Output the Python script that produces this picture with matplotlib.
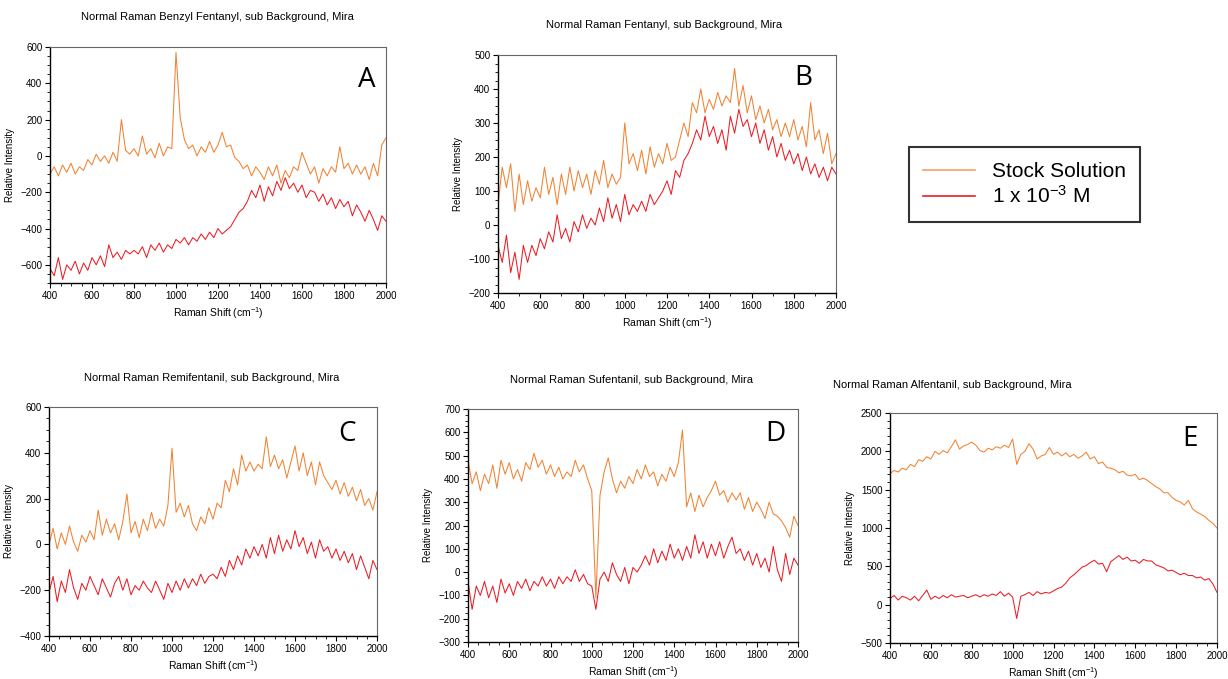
import numpy as np
import matplotlib
matplotlib.use("Agg")
import matplotlib.pyplot as plt
from matplotlib.ticker import MultipleLocator
from matplotlib.lines import Line2D

plt.rcParams['font.family'] = ['Liberation Sans', 'DejaVu Sans']
plt.rcParams['mathtext.default'] = 'regular'

# Raman shift axis, 400 - 2000 cm-1 in 20 cm-1 steps
shift = np.arange(400, 2001, 20)

# A: benzyl fentanyl
benzyl_stock = [-100, -60, -110, -50, -90, -40, -100, -60, -80, -20,
                -50, 10, -30, 0, -40, 20, -30, 200, 30, 10,
                40, 0, 110, 10, 40, -10, 70, 0, 50, 40,
                570, 210, 90, 40, 60, 0, 50, 20, 80, 20,
                60, 130, 50, 60, -10, -30, -70, -50, -110, -60,
                -90, -130, -60, -110, -50, -150, -80, -120, -60, -80,
                20, -40, -100, -60, -150, -70, -110, -60, -90, 50,
                -70, -40, -100, -50, -100, -60, -130, -40, -110, 60,
                100]
benzyl_dilute = [-620, -660, -560, -680, -600, -630, -580, -650, -590, -630,
                 -560, -600, -550, -610, -490, -560, -530, -570, -520, -540,
                 -520, -540, -500, -560, -490, -520, -480, -530, -490, -510,
                 -460, -480, -450, -490, -450, -470, -430, -460, -420, -450,
                 -400, -430, -410, -390, -350, -310, -290, -250, -190, -230,
                 -160, -250, -170, -220, -140, -190, -120, -180, -150, -200,
                 -160, -230, -190, -200, -250, -210, -270, -230, -290, -240,
                 -280, -250, -330, -270, -310, -360, -300, -350, -410, -330,
                 -360]

# B: fentanyl
fentanyl_stock = [60, 170, 110, 180, 40, 150, 60, 130, 70, 110,
                  80, 170, 90, 140, 60, 150, 90, 170, 100, 160,
                  110, 150, 90, 160, 120, 190, 110, 150, 120, 140,
                  300, 180, 210, 160, 220, 150, 230, 170, 210, 180,
                  240, 190, 200, 250, 300, 260, 360, 330, 400, 330,
                  370, 340, 390, 350, 380, 360, 460, 350, 410, 330,
                  380, 310, 350, 300, 340, 280, 310, 260, 300, 260,
                  310, 250, 290, 230, 360, 250, 280, 210, 270, 180,
                  210]
fentanyl_dilute = [-60, -110, -30, -140, -80, -160, -60, -110, -60, -90,
                   -40, -70, -20, -50, 30, -40, -10, -50, 10, -20,
                   30, -10, 20, 0, 50, 10, 80, 20, 60, 10,
                   90, 30, 60, 40, 70, 40, 90, 60, 80, 100,
                   130, 90, 160, 140, 190, 210, 240, 280, 250, 320,
                   260, 290, 240, 280, 220, 320, 270, 340, 290, 310,
                   260, 300, 240, 280, 220, 260, 200, 240, 190, 220,
                   180, 210, 160, 200, 150, 180, 140, 170, 130, 170,
                   150]

# C: remifentanil
remi_stock = [0, 70, -20, 50, 0, 80, 10, -30, 40, 10,
              60, 20, 150, 40, 110, 50, 90, 20, 100, 220,
              50, 100, 30, 110, 60, 140, 70, 110, 80, 170,
              420, 140, 180, 120, 170, 90, 60, 120, 90, 160,
              110, 180, 160, 280, 230, 330, 260, 390, 320, 360,
              320, 350, 330, 470, 340, 390, 330, 370, 290, 360,
              430, 320, 400, 300, 360, 260, 360, 300, 270, 240,
              280, 220, 270, 210, 250, 190, 240, 170, 200, 150,
              230]
remi_dilute = [-210, -140, -250, -160, -210, -110, -190, -240, -170, -200,
               -140, -180, -220, -150, -190, -230, -170, -140, -200, -150,
               -220, -180, -200, -160, -190, -210, -160, -200, -240, -170,
               -210, -160, -200, -150, -190, -150, -180, -130, -170, -140,
               -130, -150, -100, -140, -70, -110, -50, -90, -20, -60,
               -10, -50, 0, -60, 30, -40, 40, -30, 20, -20,
               60, -10, 30, -40, 10, -60, 20, -30, -10, -60,
               -20, -70, -30, -80, -40, -110, -50, -100, -150, -70,
               -110]

# D: sufentanil
sufen_stock = [480, 380, 430, 350, 420, 380, 460, 360, 480, 420,
               470, 400, 440, 390, 470, 440, 510, 450, 480, 420,
               460, 410, 450, 400, 430, 410, 480, 430, 460, 400,
               350, -110, 330, 430, 490, 400, 340, 390, 360, 410,
               380, 440, 400, 460, 410, 430, 370, 420, 390, 450,
               410, 470, 610, 280, 340, 260, 330, 280, 320, 350,
               390, 330, 350, 300, 340, 310, 340, 270, 320, 260,
               300, 270, 230, 300, 250, 240, 220, 190, 150, 240,
               200]
sufen_dilute = [-40, -160, -60, -100, -40, -110, -60, -130, -30, -90,
                -50, -100, -40, -70, -30, -80, -40, -60, -20, -60,
                -30, -70, -20, -50, -20, -40, 10, -40, -10, -50,
                -60, -160, -30, 0, -40, 40, -10, -40, 20, -50,
                20, 0, 30, 70, 30, 100, 40, 90, 50, 120,
                60, 100, 50, 110, 60, 160, 80, 130, 60, 120,
                70, 130, 60, 110, 150, 80, 100, 50, 90, 30,
                80, 20, 60, 0, 110, 10, -40, 80, -10, 60,
                30]

# E: alfentanil
alfen_stock = [1710, 1750, 1730, 1780, 1760, 1830, 1800, 1890, 1870, 1930,
               1900, 2000, 1960, 2010, 1980, 2060, 2150, 2030, 2070, 2090,
               2120, 2080, 2010, 1990, 2040, 2020, 2060, 2040, 2080, 2050,
               2160, 1830, 1960, 2000, 2100, 2030, 1900, 1940, 1960, 2050,
               1960, 1990, 1940, 1980, 1930, 1960, 1910, 1940, 1990, 1900,
               1930, 1840, 1860, 1790, 1780, 1760, 1720, 1740, 1690, 1680,
               1700, 1630, 1650, 1620, 1580, 1540, 1510, 1460, 1460, 1400,
               1360, 1340, 1300, 1360, 1250, 1210, 1180, 1150, 1100, 1060,
               1000]
alfen_dilute = [80, 120, 60, 110, 90, 60, 110, 50, 120, 190,
                70, 110, 80, 120, 90, 130, 100, 110, 120, 90,
                110, 130, 100, 130, 110, 140, 120, 170, 110, 150,
                100, -180, 110, 130, 160, 120, 170, 140, 160, 150,
                180, 210, 230, 280, 350, 390, 440, 490, 510, 550,
                580, 530, 540, 430, 560, 600, 640, 590, 620, 570,
                580, 540, 590, 570, 570, 520, 500, 480, 440, 450,
                420, 390, 410, 380, 380, 350, 360, 320, 340, 270,
                160]

titles = ["Normal Raman Benzyl Fentanyl, sub Background, Mira",
          "Normal Raman Fentanyl, sub Background, Mira",
          "Normal Raman Remifentanil, sub Background, Mira",
          "Normal Raman Sufentanil, sub Background, Mira",
          "Normal Raman Alfentanil, sub Background, Mira"]
letters = ["A", "B", "C", "D", "E"]
series = [(benzyl_stock, benzyl_dilute), (fentanyl_stock, fentanyl_dilute),
          (remi_stock, remi_dilute), (sufen_stock, sufen_dilute),
          (alfen_stock, alfen_dilute)]
ylims = [(-700, 600), (-200, 500), (-400, 600), (-300, 700), (-500, 2500)]
ysteps = [200, 100, 200, 100, 500]
yminor = [50, 25, 50, 25, 100]
xminor = [50, 100, 50, 50, 50]

ORANGE = '#F28232'
RED = '#EC1C24'

W, H = 1228, 679
fig = plt.figure(figsize=(W / 100, H / 100), dpi=100)


def fx(x):
    return x / W


def fy(y):
    return 1 - y / H


# axes boxes in pixels: left, top, right, bottom
boxes = [(50, 47, 386, 283), (498, 55, 836, 293), (49, 407, 377, 636),
         (468, 409, 798, 642), (890, 413, 1217, 643)]
title_pos = [(217, 17), (664, 25), (212, 378), (631, 380), (952, 385)]
letter_pos = [(367, 80), (803, 78), (347, 434), (775, 434), (1190, 439)]

for i, (l, t, r, b) in enumerate(boxes):
    ax = fig.add_axes([fx(l), fy(b), fx(r - l), (b - t) / H])
    stock, dilute = series[i]
    ax.plot(shift, stock, color=ORANGE, lw=0.75)
    ax.plot(shift, dilute, color=RED, lw=0.75)
    ax.set_xlim(400, 2000)
    ax.set_ylim(*ylims[i])
    ax.xaxis.set_major_locator(MultipleLocator(200))
    ax.xaxis.set_minor_locator(MultipleLocator(xminor[i]))
    ax.yaxis.set_major_locator(MultipleLocator(ysteps[i]))
    ax.yaxis.set_minor_locator(MultipleLocator(yminor[i]))
    ax.tick_params(which='both', direction='out', labelsize=7, pad=2,
                   top=False, right=False)
    ax.tick_params(which='major', length=3.5, width=0.8)
    ax.tick_params(which='minor', length=2, width=0.6)
    for s in ['left', 'bottom']:
        ax.spines[s].set_linewidth(1.0)
    for s in ['top', 'right']:
        ax.spines[s].set_linewidth(0.8)
        ax.spines[s].set_color('#666666')
    ax.set_xlabel('Raman Shift (cm$^{-1}$)', fontsize=7.5, labelpad=3)
    ax.set_ylabel('Relative Intensity', fontsize=7, labelpad=4)
    tx, ty = title_pos[i]
    fig.text(fx(tx), fy(ty), titles[i], ha='center', va='center', fontsize=8)
    lx, ly = letter_pos[i]
    fig.text(fx(lx), fy(ly), letters[i], ha='center', va='center',
             fontsize=20, family=['Open Sans', 'DejaVu Sans'])

# shared legend on its own
handles = [Line2D([], [], color='#F5A070', lw=1.2),
           Line2D([], [], color=RED, lw=1.2)]
leg = fig.legend(handles, ['Stock Solution', '1 x 10$^{-3}$ M'],
                 loc='center', bbox_to_anchor=(fx(1024.5), fy(184.5)),
                 fontsize=15, frameon=True, fancybox=False,
                 handlelength=2.5, handletextpad=0.8, borderpad=0.7,
                 labelspacing=0.2)
leg.get_frame().set_edgecolor('black')
leg.get_frame().set_linewidth(1.5)

fig.savefig('out.png', dpi=100)
